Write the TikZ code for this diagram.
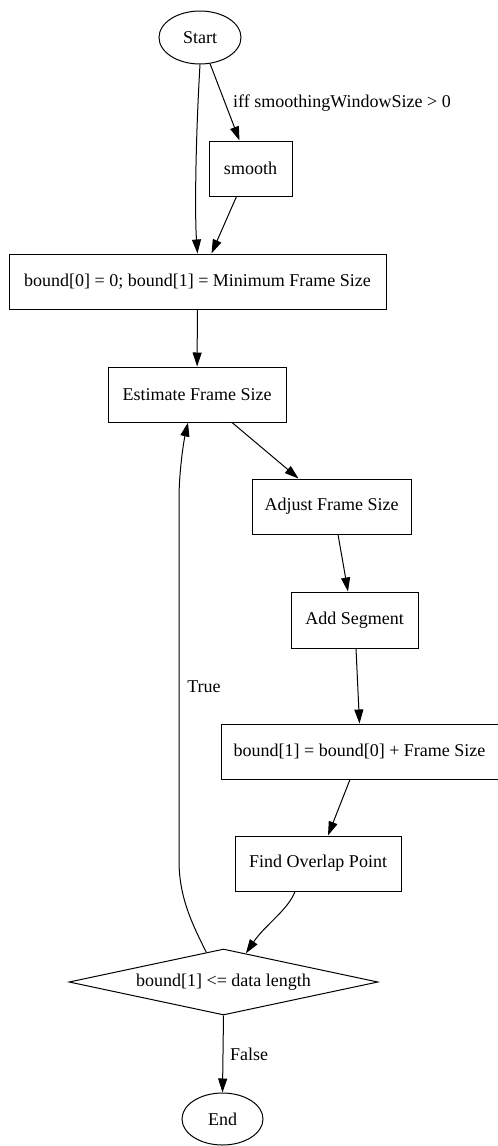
\documentclass[tikz,border=0pt]{standalone}
\usepackage{fontspec}
\setmainfont{Liberation Serif}
\usetikzlibrary{arrows.meta,positioning,shapes.geometric}

\begin{document}
\begin{tikzpicture}[
    x=1pt,y=-1pt,
    font=\fontsize{18}{21}\selectfont,
    blk/.style={rectangle,draw,minimum height=55pt,inner sep=0pt,line width=1pt},
    term/.style={ellipse,draw,inner sep=0pt,line width=1pt},
    dec/.style={diamond,draw,inner sep=0pt,aspect=4.68,line width=1pt},
    lbl/.style={inner sep=0pt},
    arr/.style={-{Triangle[length=14pt,width=9pt]},line width=1pt},
]
\useasboundingbox (0,0) rectangle (498,1146);

% Start and optional smoothing
\node[term,minimum width=82pt,minimum height=53pt] (start) at (200,37.5) {Start};
\node[blk,minimum width=83pt] (smooth) at (250.5,168.5) {smooth};
\node[lbl,anchor=west] (iff) at (233,103) {iff smoothingWindowSize > 0};

% Initial bounds
\node[blk,minimum width=377pt] (init) at (197.5,281.5) {bound[0] = 0; bound[1] = Minimum Frame Size};

% Loop body
\node[blk,minimum width=178pt] (est) at (197,394.5) {Estimate Frame Size};
\node[blk,minimum width=159pt] (adj) at (331.5,506.5) {Adjust Frame Size};
\node[blk,minimum width=127pt,minimum height=56pt] (addseg) at (354.5,620) {Add Segment};
\node[blk,minimum width=277pt] (upd) at (359.5,751.5) {bound[1] = bound[0] + Frame Size};
\node[blk,minimum width=166pt] (find) at (318,863.5) {Find Overlap Point};

% Loop test and end
\node[dec,minimum width=309pt,minimum height=66pt] (check) at (223.5,982) {bound[1] <= data length};
\node[term,minimum width=81pt,minimum height=52pt] (stop) at (222.5,1119) {End};
\node[lbl] (truel) at (204,687) {True};
\node[lbl] (falsel) at (249,1054) {False};

% Arrows
\draw[arr] (start.south) .. controls (195,150) and (195,220) .. (init.north);
\draw[arr] (start) -- ([xshift=-11pt]smooth.north);
\draw[arr] ([xshift=-14pt]smooth.south) -- ([xshift=14pt]init.north);
\draw[arr] (init) -- (est);
\draw[arr] ([xshift=35pt]est.south) -- ([xshift=-33pt]adj.north);
\draw[arr] ([xshift=6.5pt]adj.south) -- ([xshift=-6.5pt]addseg.north);
\draw[arr] ([xshift=1.5pt]addseg.south) -- (upd.north);
\draw[arr] ([xshift=-9.5pt]upd.south) -- ([xshift=10pt]find.north);
\draw[arr] ([xshift=-23pt]find.south) .. controls (288,910) and (265,925) .. (check.52);
\draw[arr] (check.120) .. controls (190,920) and (179,895) .. (179,860)
    -- (179,500) .. controls (179,470) and (184,440) .. ([xshift=-9pt]est.south);
\draw[arr] (check.south) -- (stop.north);
\end{tikzpicture}
\end{document}
